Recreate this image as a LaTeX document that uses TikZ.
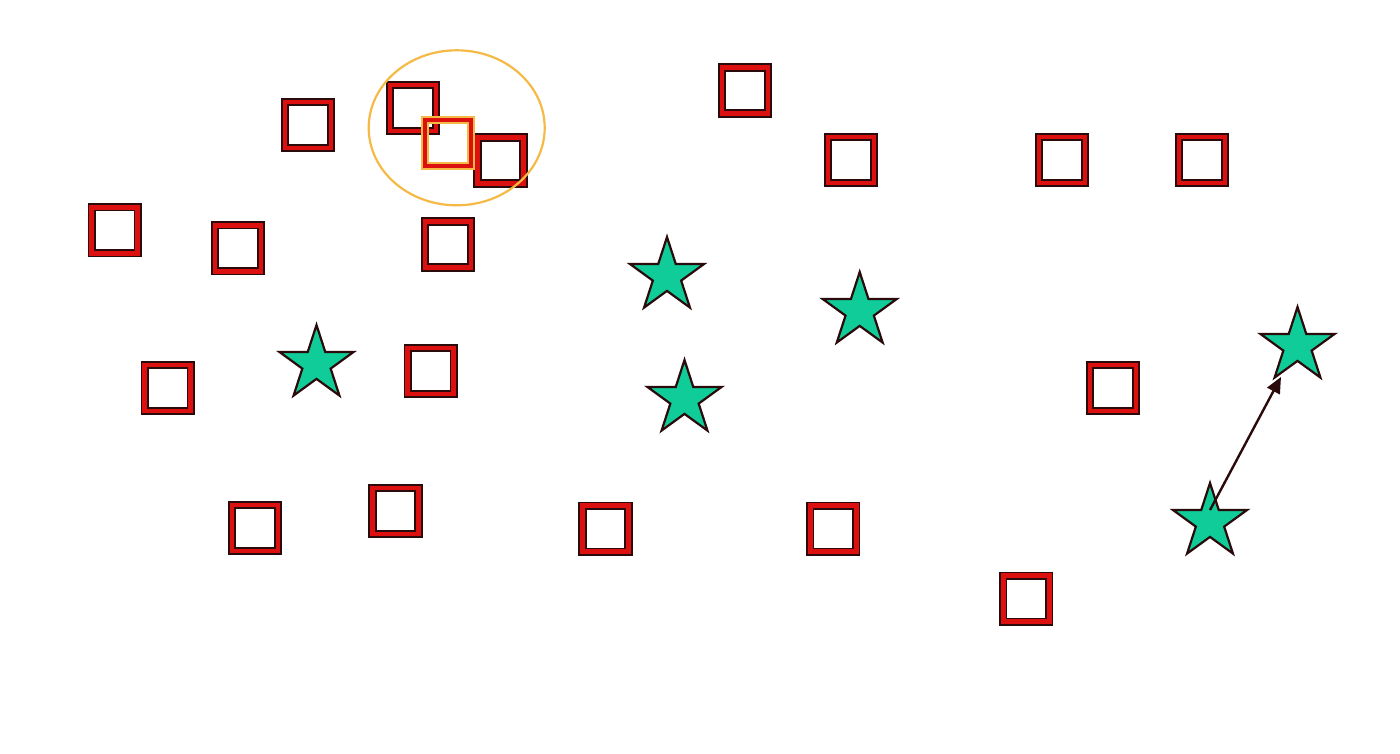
\documentclass[tikz,border=0pt]{standalone}
\usetikzlibrary{shapes.geometric,arrows.meta}
\definecolor{rd}{HTML}{DD1010}
\definecolor{dk}{HTML}{2A0A0A}
\definecolor{org}{HTML}{F5BA45}
\definecolor{teal}{HTML}{10CC99}
\tikzset{
  sq/.style={rectangle, minimum size=46pt, inner sep=0pt, draw=dk, line width=1.8pt, double=rd, double distance=4.6pt},
  hsq/.style={sq, draw=org},
  st/.style={star, star points=5, star point ratio=2.618, minimum size=78pt, inner sep=0pt, draw=dk, fill=teal, line width=2.2pt},
  sel/.style={ellipse, draw=org, line width=2.2pt, minimum width=176pt, minimum height=155pt, inner sep=0pt},
  arr/.style={draw=dk, line width=2.4pt, -{Triangle[length=16pt,width=14pt]}}
}
\begin{document}
\begin{tikzpicture}[x=1pt,y=-1pt]
\useasboundingbox (0,0) rectangle (1400,753);
% squares
\node[sq] (s1) at (308,125) {};
\node[sq] (s2) at (413,108) {};
\node[sq] (s4) at (500.5,160.5) {};
\node[hsq] (h) at (448,143) {};
\node[sq] (s5) at (745,90.5) {};
\node[sq] (s6) at (851,160) {};
\node[sq] (s7) at (1062,160) {};
\node[sq] (s8) at (1202,160) {};
\node[sq] (s9) at (114.7,230.3) {};
\node[sq] (s10) at (237.8,248.3) {};
\node[sq] (s11) at (448,244.5) {};
\node[sq] (s12) at (167.7,388) {};
\node[sq] (s13) at (430.7,371) {};
\node[sq] (s14) at (1113,388) {};
\node[sq] (s15) at (255,528) {};
\node[sq] (s16) at (395.5,511) {};
\node[sq] (s17) at (605.5,528.7) {};
\node[sq] (s18) at (833.3,528.7) {};
\node[sq] (s19) at (1026.3,598.7) {};
% selection ellipse
\node[sel] (e) at (456.7,127.8) {};
% stars
\node[st] (a) at (316.5,364) {};
\node[st] (b) at (667,276) {};
\node[st] (c) at (859.7,311) {};
\node[st] (d) at (684.5,399) {};
\node[st] (E) at (1297.5,346) {};
\node[st] (F) at (1210,522) {};
% arrow
\draw[arr, shorten >=5pt] ([yshift=12pt]F.center) -- (E);
\end{tikzpicture}
\end{document}
